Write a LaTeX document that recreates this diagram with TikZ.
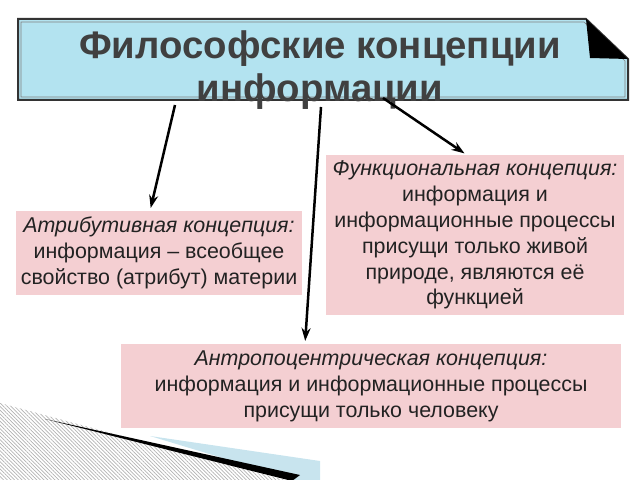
\documentclass[tikz,border=0pt]{standalone}
\usepackage{fontspec}
\setmainfont{Liberation Sans}
\usetikzlibrary{arrows.meta,patterns.meta}
\definecolor{titlefill}{HTML}{B3E3F0}
\definecolor{titletext}{HTML}{404040}
\definecolor{boxfill}{HTML}{F4CFD2}
\definecolor{boxtext}{HTML}{222222}
\definecolor{stripeblue}{HTML}{C8E4EE}
\tikzset{
  concept/.style={fill=boxfill, text=boxtext, align=center, inner sep=0pt,
    font=\fontsize{21.5}{26}\selectfont},
  link/.style={line width=2.5bp, -{Stealth[length=13bp,width=9bp]}, shorten >=3bp}
}
\begin{document}
\begin{tikzpicture}[x=1bp, y=-1bp]
        \useasboundingbox (0, 0) rectangle (640, 480);
        % banner with folded corner
        \draw[fill=titlefill, draw=black!80, line width=2bp] (18, 19) -- (586, 19) -- (628, 59) -- (628, 100) -- (18, 100) -- cycle;
        \draw[gray, line width=0.6bp] (21, 22) -- (584, 22) -- (625, 61) -- (625, 97) -- (21, 97) -- cycle;
        \fill[black] (586, 19) -- (628, 59) -- (590, 58) -- cycle;
        \node[text=titletext, align=center, font=\bfseries\fontsize{38.5}{43}\selectfont] (title) at (320, 70) {Философские концепции\\информации};
        % decoration in the corner
        \fill[pattern={Lines[angle=135, distance=2.6bp, line width=0.7bp]}, pattern color=gray!60] (0, 403) -- (285, 480) -- (0, 480) -- cycle;
        \fill[stripeblue] (150, 436) -- (320, 461) -- (320, 480) -- (295, 480) -- cycle;
        \fill[black] (45, 419) -- (300, 475) -- (292, 481) -- cycle;
        % the three concepts
        \node[concept, minimum width=288, minimum height=84] (attr) at (159, 253) {\textit{Атрибутивная концепция:}\\информация – всеобщее\\свойство (атрибут) материи};
        \node[concept, minimum width=300, minimum height=160] (func) at (475, 235) {\textit{Функциональная концепция:}\\информация и\\информационные процессы\\присущи только живой\\природе, являются её\\функцией};
        \node[concept, minimum width=502, minimum height=84] (anthro) at (371, 386) {\textit{Антропоцентрическая концепция:}\\информация и информационные процессы\\присущи только человеку};
        % arrows
        \coordinate (s1) at (175, 105);
        \coordinate (s2) at (321, 107);
        \coordinate (s3) at (383, 98);
        \draw[link] (s1) -- ([xshift=-9bp]attr.north);
        \draw[link] (s2) -- ([xshift=-66bp]anthro.north);
        \draw[link] (s3) -- ([xshift=-8bp]func.north);
      \end{tikzpicture}
\end{document}
